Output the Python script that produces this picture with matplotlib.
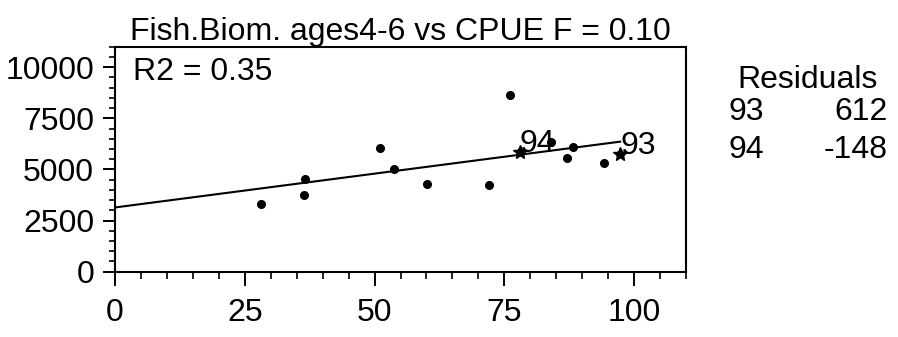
import matplotlib
matplotlib.use("Agg")
import matplotlib.pyplot as plt
from matplotlib.ticker import MultipleLocator

plt.rcParams['font.family'] = ['Liberation Sans', 'DejaVu Sans']

# Fish biomass ages 4-6 (y) against CPUE (x)
cpue = [28.1, 36.4, 36.6, 51.1, 53.8, 60.1, 72.1, 76.1, 83.9, 87.0, 88.3, 94.2]
biomass = [3300, 3730, 4510, 6050, 5040, 4310, 4230, 8620, 6340, 5560, 6100, 5320]

# highlighted years
years = ['94', '93']
cpue_yr = [78.0, 97.3]
biomass_yr = [5850, 5780]

# regression line
line_x = [0, 97.3]
line_y = [3140, 6360]

resid_years = ['93', '94']
resid_vals = ['612', '-148']

fs = 23

fig = plt.figure(figsize=(8.98, 3.37), dpi=100)
ax = fig.add_axes([0.128, 0.194, 0.636, 0.667])

ax.plot(line_x, line_y, color='black', lw=1.5)
ax.plot(cpue, biomass, 'o', color='black', ms=5.5)
ax.plot(cpue_yr, biomass_yr, 'o', color='black', ms=5)
ax.plot(cpue_yr, biomass_yr, '*', color='black', ms=10)
for lab, xx, yy in zip(years, cpue_yr, biomass_yr):
    ax.text(xx, yy, lab, fontsize=fs, ha='left', va='baseline')

ax.set_xlim(0, 110)
ax.set_ylim(0, 11000)
ax.xaxis.set_major_locator(MultipleLocator(25))
ax.xaxis.set_minor_locator(MultipleLocator(5))
ax.yaxis.set_major_locator(MultipleLocator(2500))
ax.yaxis.set_minor_locator(MultipleLocator(500))
ax.set_xticks([0, 25, 50, 75, 100])
ax.tick_params(axis='x', which='major', length=10, width=1.4, pad=9, labelsize=fs)
ax.tick_params(axis='x', which='minor', length=5, width=1.2)
ax.tick_params(axis='y', which='major', length=9, width=1.4, pad=6, labelsize=fs)
ax.tick_params(axis='y', which='minor', length=4, width=1.2)
for s in ax.spines.values():
    s.set_linewidth(1.5)

ax.text(0.0315, 0.852, 'R2 = 0.35', transform=ax.transAxes, fontsize=fs,
        ha='left', va='baseline')
ax.set_title('Fish.Biom. ages4-6 vs CPUE F = 0.10', fontsize=fs, pad=5)

# residuals table
fig.text(878 / 898, 1 - 88 / 337, 'Residuals', fontsize=fs, ha='right', va='baseline')
rows_y = [120, 158]
for yr, val, py in zip(resid_years, resid_vals, rows_y):
    fig.text(729 / 898, 1 - py / 337, yr, fontsize=fs, ha='left', va='baseline')
    fig.text(888 / 898, 1 - py / 337, val, fontsize=fs, ha='right', va='baseline')

fig.savefig('out.png', dpi=100)
